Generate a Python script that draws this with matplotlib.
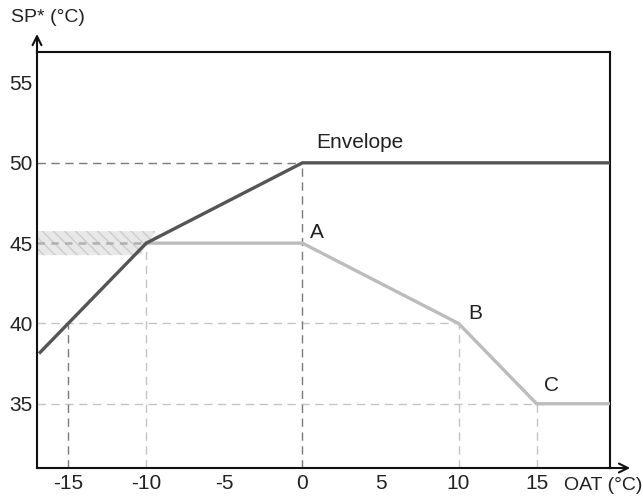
import matplotlib
matplotlib.use("Agg")
import matplotlib.pyplot as plt
from matplotlib.patches import Polygon

plt.rcParams['font.family'] = ['Liberation Sans', 'DejaVu Sans']

# Data
envelope_x = [-16.8, -10, 0, 19.7]
envelope_y = [38.2, 45, 50, 50]
curve_x = [-10, 0, 10, 15, 19.7]
curve_y = [45, 45, 40, 35, 35]
x_ticks = [-15, -10, -5, 0, 5, 10, 15]
y_ticks = [35, 40, 45, 50, 55]
point_labels = ["A", "B", "C"]
point_label_x = [0.5, 10.6, 15.45]
point_label_y = [45.3, 40.3, 35.8]

XMIN, XMAX = -17, 19.7
YMIN, YMAX = 31, 56.9
FS = 15
FS_AX = 14

fig = plt.figure(figsize=(6.43, 4.99), dpi=100)
ax = fig.add_axes([37/643, 1-468/499, (610-37)/643, (468-52)/499])
ax.set_xlim(XMIN, XMAX)
ax.set_ylim(YMIN, YMAX)

dash_col = '#c4c4c4'
dark_dash = '#7a7a7a'
dash_kw = dict(color=dash_col, lw=1.0, ls=(0, (6, 4)), zorder=1)
# horizontal guides
ax.plot([XMIN, 10], [40, 40], **dash_kw)
ax.plot([XMIN, 15], [35, 35], **dash_kw)
# vertical guides
ax.plot([10, 10], [YMIN, 40], **dash_kw)
ax.plot([15, 15], [YMIN, 35], **dash_kw)
ax.plot([-10, -10], [YMIN, 45], **dash_kw)
ax.plot([-15, -15], [YMIN, 40], color=dark_dash, lw=1.0, ls=(0, (6, 4)), zorder=1)
ax.plot([XMIN, 0], [50, 50], color=dark_dash, lw=1.0, ls=(0, (6, 4)), zorder=1)
ax.plot([0, 0], [YMIN, 50], color=dark_dash, lw=1.0, ls=(0, (6, 4)), zorder=1)

# hatched band around 45
band = Polygon([[XMIN, 44.25], [-10.4, 44.25], [-9.4, 45.75], [XMIN, 45.75]],
               closed=True, facecolor='#e8e8e8', edgecolor='#cccccc', hatch='\\\\\\',
               lw=0, zorder=1)
ax.add_patch(band)
ax.plot([XMIN, -10], [45, 45], color='#b0b0b0', lw=1.8, ls=(0, (3, 2.5)), zorder=2)

ax.plot(curve_x, curve_y, color='#bcbcbc', lw=2.4, zorder=3, solid_joinstyle='miter')
ax.plot(envelope_x, envelope_y, color='#555555', lw=2.4, zorder=4, solid_joinstyle='miter')

ax.text(0.9, 50.93, "Envelope", fontsize=FS, color='#222222', ha='left', va='baseline')
for lab, lx, ly in zip(point_labels, point_label_x, point_label_y):
    ax.text(lx, ly, lab, fontsize=FS, color='#222222', ha='left', va='baseline')

ax.set_xticks(x_ticks)
ax.set_yticks(y_ticks)
ax.set_xticklabels([str(v) for v in x_ticks])
ax.set_yticklabels([str(v) for v in y_ticks])
ax.tick_params(axis='x', length=0, labelsize=FS, colors='#222222', pad=4.5)
ax.tick_params(axis='y', length=0, labelsize=FS, colors='#222222', pad=3)

for s in ax.spines.values():
    s.set_linewidth(1.5)
    s.set_color('#111111')

# axis arrows
ax.annotate('', xy=(0, 1.05), xycoords='axes fraction', xytext=(0, 0.99),
            arrowprops=dict(arrowstyle='->', lw=1.5, color='#111111', mutation_scale=16))
ax.annotate('', xy=(1.04, 0), xycoords='axes fraction', xytext=(0.99, 0),
            arrowprops=dict(arrowstyle='->', lw=1.5, color='#111111', mutation_scale=16))

fig.text(11/643, 1-17/499, "SP* (°C)", fontsize=FS_AX, color='#222222', ha='left', va='center')
fig.text(564/643, 1-485/499, "OAT (°C)", fontsize=FS_AX, color='#222222', ha='left', va='center')

fig.savefig("out.png", dpi=100)
